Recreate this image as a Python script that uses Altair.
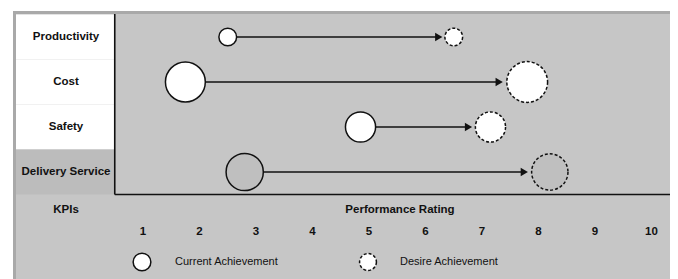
import math
import altair as alt
import pandas as pd

# ---------------- data ----------------
kpis = ["Productivity", "Cost", "Safety", "Delivery Service"]
current_rating = [2.5, 1.75, 4.85, 2.8]
desired_rating = [6.5, 7.8, 7.15, 8.2]
current_radius = [10, 22.5, 17, 21]
desired_radius = [10, 23, 17, 20.5]
rating_ticks = [1, 2, 3, 4, 5, 6, 7, 8, 9, 10]
legend_labels = ["Current Achievement", "Desire Achievement"]
axis_titles = ["KPIs", "Performance Rating"]

# ---------------- layout (pixels) ----------------
ORIGIN_X, ORIGIN_Y = 13, 11          # plot-area origin on the page
W, H = 657, 272
PX_PER_RATING, PX_AT_RATING0 = 56.5, 86.5
PX_PER_ROW, PX_AT_ROW0 = 45.0, 37.0


def rx(px):
    return (px - PX_AT_RATING0) / PX_PER_RATING


def ry(py):
    return (py - PX_AT_ROW0) / PX_PER_ROW


x_dom = [rx(ORIGIN_X), rx(ORIGIN_X + W)]
y_dom = [ry(ORIGIN_Y), ry(ORIGIN_Y + H)]
xs = alt.Scale(domain=x_dom, nice=False, zero=False)
ys = alt.Scale(domain=y_dom, nice=False, zero=False, reverse=True)

FONT = "Liberation Sans"
BG = "#c6c6c6"
HILITE = "#bcbcbc"
FRAME = "#a9a9a9"


def X(f):
    return alt.X(f, type="quantitative", scale=xs, axis=None)


def Y(f):
    return alt.Y(f, type="quantitative", scale=ys, axis=None)


# ---------------- tables ----------------
rows = pd.DataFrame({
    "kpi": kpis,
    "row": list(range(len(kpis))),
    "cur": current_rating,
    "des": desired_rating,
    "rc": current_radius,
    "rd": desired_radius,
})
rows["top"] = rows["row"] - 0.5
rows["bot"] = rows["row"] + 0.5
rows["left"] = rx(16)
rows["right"] = 0.5
rows["cell_fill"] = ["white" if k != "Delivery Service" else HILITE for k in kpis]
rows["circ_fill"] = ["white" if k != "Delivery Service" else "#bfbfbf" for k in kpis]
rows["area_c"] = [math.pi * r * r for r in current_radius]
rows["area_d"] = [math.pi * r * r for r in desired_radius]
rows["head"] = rows["des"] - (rows["rd"] + 5.0) / PX_PER_RATING
rows["line_end"] = rows["des"] - (rows["rd"] + 4.0) / PX_PER_RATING
rows["label_x"] = rx(66)

base = alt.Chart(rows)

frame = pd.DataFrame({
    "x": [x_dom[0], x_dom[0]], "x2": [x_dom[1], rx(16)],
    "y": [y_dom[0], y_dom[0]], "y2": [ry(14), y_dom[1]],
})
frame_rects = alt.Chart(frame).mark_rect(color=FRAME, strokeWidth=0).encode(
    x=X("x"), x2="x2", y=Y("y"), y2="y2"
)

cells = base.mark_rect(strokeWidth=0).encode(
    x=X("left"), x2="right", y=Y("top"), y2="bot",
    fill=alt.Fill("cell_fill:N", scale=None),
)

borders = pd.DataFrame({
    "x": [0.5, 0.5], "x2": [0.5, x_dom[1]],
    "y": [ry(14), len(kpis) - 0.5], "y2": [len(kpis) - 0.5, len(kpis) - 0.5],
})
border_rules = alt.Chart(borders).mark_rule(color="#111111", strokeWidth=1.6).encode(
    x=X("x"), x2="x2", y=Y("y"), y2="y2"
)

arrows = base.mark_rule(color="#111111", strokeWidth=1.3).encode(
    x=X("cur"), x2="line_end", y=Y("row"), y2="row"
)
heads = base.mark_point(shape="triangle-right", filled=True, color="#111111",
                        size=70, opacity=1).encode(x=X("head"), y=Y("row"))

cur_pts = base.mark_point(shape="circle", filled=True, stroke="#111111",
                          strokeWidth=1.5, opacity=1, fillOpacity=1).encode(
    x=X("cur"), y=Y("row"),
    fill=alt.Fill("circ_fill:N", scale=None),
    size=alt.Size("area_c:Q", scale=None),
)
des_pts = base.mark_point(shape="circle", filled=True, stroke="#111111",
                          strokeWidth=1.5, strokeDash=[3, 2], opacity=1,
                          fillOpacity=1).encode(
    x=X("des"), y=Y("row"),
    fill=alt.Fill("circ_fill:N", scale=None),
    size=alt.Size("area_d:Q", scale=None),
)

row_labels = base.mark_text(font=FONT, fontSize=11.5, fontWeight="bold",
                            color="#111111", align="center", baseline="middle").encode(
    x=X("label_x"), y=Y("row"), text="kpi:N"
)

titles = pd.DataFrame({"t": axis_titles, "x": [rx(66), rx(400)], "y": [ry(210), ry(210)]})
title_text = alt.Chart(titles).mark_text(font=FONT, fontSize=11.5, fontWeight="bold",
                                         color="#111111", align="center",
                                         baseline="middle").encode(
    x=X("x"), y=Y("y"), text="t:N"
)

ticks = pd.DataFrame({"v": rating_ticks, "y": [ry(232)] * len(rating_ticks)})
tick_text = alt.Chart(ticks).mark_text(font=FONT, fontSize=11.5, fontWeight="bold",
                                       color="#111111", align="center",
                                       baseline="middle").encode(
    x=X("v"), y=Y("y"), text="v:Q"
)

leg = pd.DataFrame({
    "label": legend_labels,
    "mx": [rx(142), rx(368)],
    "tx": [rx(175), rx(400)],
    "y": [ry(262), ry(262)],
    "kind": ["current", "desired"],
    "area": [math.pi * 10 * 10, math.pi * 9.5 * 9.5],
})
leg_base = alt.Chart(leg)
leg_cur = leg_base.transform_filter(alt.datum.kind == "current").mark_point(
    shape="circle", filled=True, fill="white", stroke="#111111", strokeWidth=1.5,
    opacity=1).encode(x=X("mx"), y=Y("y"), size=alt.Size("area:Q", scale=None))
leg_des = leg_base.transform_filter(alt.datum.kind == "desired").mark_point(
    shape="circle", filled=True, fill="white", stroke="#111111", strokeWidth=1.5,
    strokeDash=[3, 2], opacity=1).encode(x=X("mx"), y=Y("y"),
                                         size=alt.Size("area:Q", scale=None))
leg_text = leg_base.mark_text(font=FONT, fontSize=11, color="#111111", align="left",
                              baseline="middle").encode(x=X("tx"), y=Y("y"), text="label:N")

chart = alt.layer(
    frame_rects, cells, arrows, heads, border_rules, cur_pts, des_pts, row_labels,
    title_text, tick_text, leg_cur, leg_des, leg_text,
).properties(
    width=W, height=H,
    autosize=alt.AutoSizeParams(type="none"),
    padding={"left": ORIGIN_X - 8, "top": ORIGIN_Y - 8, "right": 0, "bottom": 0},
    background="white",
).configure_view(
    fill=BG, stroke=None
)

chart.save("out.html", embed_options={"renderer": "svg", "actions": False})
